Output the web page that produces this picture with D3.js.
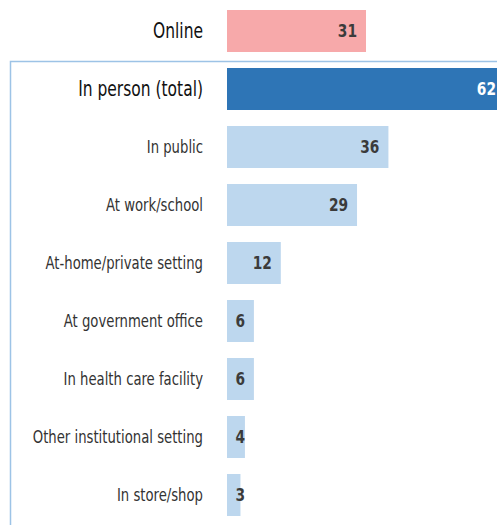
<!DOCTYPE html>
<html>
<head>
<meta charset="utf-8">
<script src="https://cdn.jsdelivr.net/npm/d3@7"></script>
<style>
  html, body { margin: 0; padding: 0; background: #fff; }
  svg { display: block; }
  text { font-family: "DejaVu Sans Condensed", "Liberation Sans Narrow", sans-serif; }
</style>
</head>
<body>
<svg id="chart" width="497" height="525"></svg>
<script>
// Where harassment took place (percent)
const categories = [
  "Online",
  "In person (total)",
  "In public",
  "At work/school",
  "At-home/private setting",
  "At government office",
  "In health care facility",
  "Other institutional setting",
  "In store/shop"
];
const values = [31, 62, 36, 29, 12, 6, 6, 4, 3];
const groups = ["online", "total", "sub", "sub", "sub", "sub", "sub", "sub", "sub"];

const fills = { online: "#f7a9aa", total: "#2e75b6", sub: "#bdd7ee" };
const valueColors = { online: "#3b3b3b", total: "#ffffff", sub: "#3b3b3b" };

const svg = d3.select("#chart");
const W = 497, H = 525;

const x = d3.scaleLinear().domain([0, 62]).range([227, 505]);
const y = d3.scaleBand().domain(categories).range([10, 516]).paddingInner(0.276).paddingOuter(0);

const rows = categories.map((c, i) => ({ cat: c, v: values[i], g: groups[i] }));

// frame around the in-person breakdown
svg.append("path")
  .attr("d", `M${W + 2},61.5 H10.5 V${H + 2}`)
  .attr("fill", "none")
  .attr("stroke", "#9dc3e6")
  .attr("stroke-width", 1.5);

svg.selectAll("rect.bar")
  .data(rows)
  .join("rect")
  .attr("class", "bar")
  .attr("x", x(0))
  .attr("y", d => y(d.cat))
  .attr("width", d => x(d.v) - x(0))
  .attr("height", y.bandwidth())
  .attr("fill", d => fills[d.g]);

// condensed category labels
svg.selectAll("text.cat")
  .data(rows)
  .join("text")
  .attr("class", "cat")
  .attr("transform", d => `translate(203,${y(d.cat) + y.bandwidth() / 2}) scale(0.84,1)`)
  .attr("dy", "0.35em")
  .attr("text-anchor", "end")
  .attr("fill", d => d.g === "sub" ? "#333" : "#111")
  .style("font-size", d => d.g === "sub" ? "17.5px" : "20.5px")
  .text(d => d.cat);

svg.selectAll("text.val")
  .data(rows)
  .join("text")
  .attr("class", "val")
  .attr("transform", d => `translate(${Math.max(x(d.v) - 9, 245)},${y(d.cat) + y.bandwidth() / 2}) scale(0.85,1)`)
  .attr("dy", "0.36em")
  .attr("text-anchor", "end")
  .attr("fill", d => valueColors[d.g])
  .style("font-size", "18px")
  .style("font-weight", "bold")
  .text(d => d.v);
</script>
</body>
</html>
